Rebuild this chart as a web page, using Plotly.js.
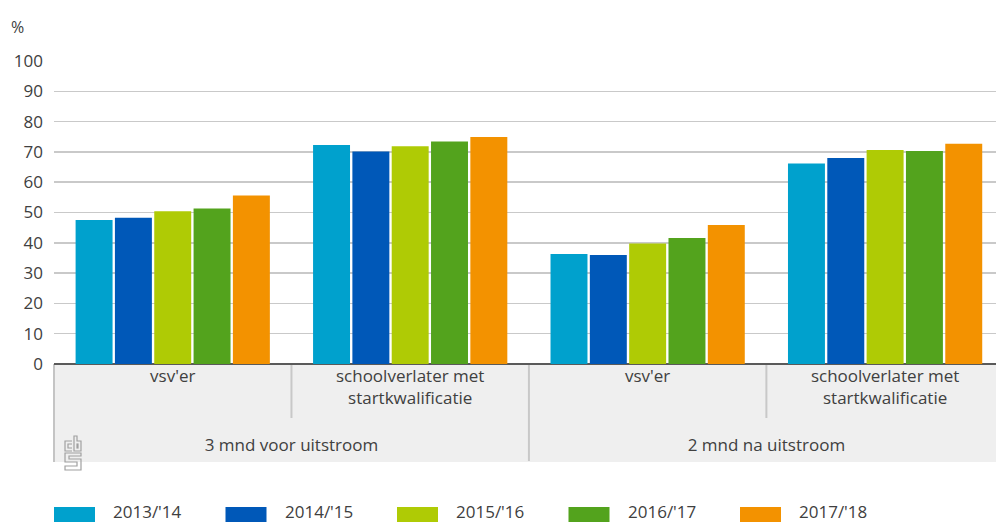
<!DOCTYPE html>
<html>
<head>
<meta charset="utf-8">
<script src="https://cdn.plot.ly/plotly-3.0.1.min.js"></script>
<style>html,body{margin:0;padding:0;background:#fff;}#chart{width:996px;height:523px;}</style>
</head>
<body>
<div id="chart"></div>
<script>
var outerCats = ["3 mnd voor uitstroom", "3 mnd voor uitstroom", "2 mnd na uitstroom", "2 mnd na uitstroom"];
var innerCats = ["vsv'er", "schoolverlater met<br>startkwalificatie<br>&nbsp;", "vsv'er", "schoolverlater met<br>startkwalificatie<br>&nbsp;"];
var seriesNames = ["2013/'14", "2014/'15", "2015/'16", "2016/'17", "2017/'18"];
var v2013 = [47.5, 72.3, 36.3, 66.2];
var v2014 = [48.3, 70.1, 36.0, 68.0];
var v2015 = [50.4, 71.9, 39.8, 70.6];
var v2016 = [51.3, 73.4, 41.6, 70.3];
var v2017 = [55.6, 74.9, 45.9, 72.7];
var yTicks = [0, 10, 20, 30, 40, 50, 60, 70, 80, 90, 100];

var seriesValues = [v2013, v2014, v2015, v2016, v2017];
var colors = ["#00a1cd", "#0058b8", "#afcb05", "#53a31d", "#f39200"];
var font = "Open Sans, Noto Sans, sans-serif";
var textColor = "#404040";

var traces = seriesValues.map(function (vals, i) {
  return {
    type: "bar",
    name: seriesNames[i],
    x: [outerCats, innerCats],
    y: vals,
    marker: {color: colors[i], line: {width: 0}},
    showlegend: false,
    hoverinfo: "y+name"
  };
});

var W = 996, H = 523, mL = 54, mR = 0, mT = 61, mB = 159;
var xr = [-0.5, 3.467];
var pw = W - mL - mR, ph = H - mT - mB;
function px2paperX(px) { return (px - mL) / pw; }
function px2paperY(py) { return (H - mB - py) / ph; }
function idx2paper(i) { return (i - xr[0]) / (xr[1] - xr[0]); }

var shapes = [];
var annotations = [];
// gray label box
shapes.push({type: "rect", xref: "paper", yref: "paper", x0: 0, x1: 1.02, y0: 0, y1: px2paperY(462),
  fillcolor: "#efefef", line: {width: 0}, layer: "below"});
// left edge line
shapes.push({type: "line", xref: "paper", yref: "paper", x0: 0, x1: 0, y0: 0, y1: px2paperY(462),
  line: {color: "#c4c4c4", width: 2}, layer: "below"});
// inner dividers
[0.5, 2.5].forEach(function (b) {
  shapes.push({type: "line", xref: "paper", yref: "paper", x0: idx2paper(b), x1: idx2paper(b), y0: 0, y1: px2paperY(418),
    line: {color: "#c8c8c8", width: 2}, layer: "below"});
});
// outer divider
shapes.push({type: "line", xref: "paper", yref: "paper", x0: idx2paper(1.5), x1: idx2paper(1.5), y0: 0, y1: px2paperY(461),
  line: {color: "#c8c8c8", width: 2}, layer: "below"});

// small cbs logo watermark (line art)
function pathPx(pts, close) {
  var s = pts.map(function (p, k) {
    return (k === 0 ? "M" : "L") + px2paperX(p[0]).toFixed(5) + "," + px2paperY(p[1]).toFixed(5);
  }).join(" ");
  return s + (close ? " Z" : "");
}
var logoPaths = [
  pathPx([[72, 441], [65, 441], [65, 451], [72, 451]], false),
  pathPx([[72, 444], [68, 444], [68, 448], [72, 448]], false),
  pathPx([[74, 436], [77, 436], [77, 441], [81, 441], [81, 451], [74, 451]], true),
  pathPx([[77, 444], [78, 444], [78, 448], [77, 448]], true),
  pathPx([[81, 453], [65, 453], [65, 462], [77, 462], [77, 466], [65, 466], [65, 470], [81, 470], [81, 459], [69, 459], [69, 456], [81, 456]], true)
];
logoPaths.forEach(function (p) {
  shapes.push({type: "path", xref: "paper", yref: "paper", path: p, line: {color: "#a0a0a0", width: 1.2}});
});

// custom legend
for (var i = 0; i < seriesNames.length; i++) {
  var sx = 54 + i * 171.5;
  shapes.push({type: "rect", xref: "paper", yref: "paper",
    x0: px2paperX(sx), x1: px2paperX(sx + 41), y0: px2paperY(522), y1: px2paperY(507),
    fillcolor: colors[i], line: {width: 0}});
  annotations.push({xref: "paper", yref: "paper", x: px2paperX(sx + 57), y: px2paperY(511.5),
    xanchor: "left", yanchor: "middle", showarrow: false, text: seriesNames[i],
    font: {family: font, size: 17, color: textColor}});
}
// % unit label
annotations.push({xref: "paper", yref: "paper", x: px2paperX(9), y: px2paperY(27),
  xanchor: "left", yanchor: "middle", showarrow: false, text: "%",
  font: {family: font, size: 16, color: textColor}});

var layout = {
  width: W, height: H,
  margin: {l: mL, r: mR, t: mT, b: mB, pad: 0},
  paper_bgcolor: "#ffffff",
  plot_bgcolor: "rgba(0,0,0,0)",
  barmode: "group",
  bargap: 0.172,
  bargroupgap: 0.06,
  font: {family: font, size: 17, color: textColor},
  xaxis: {
    type: "multicategory",
    range: xr,
    showgrid: false,
    ticks: "outside",
    ticklen: 4,
    tickcolor: "rgba(0,0,0,0)",
    showdividers: false,
    tickfont: {family: font, size: 17, color: textColor},
    showline: false,
    zeroline: false,
    fixedrange: true
  },
  yaxis: {
    range: [0, 100],
    tickvals: yTicks,
    ticktext: yTicks.map(String),
    showgrid: true,
    gridcolor: "#c9c9c9",
    gridwidth: 1.5,
    zeroline: true,
    zerolinecolor: "#5a5a5a",
    zerolinewidth: 2.5,
    showline: false,
    ticks: "",
    ticklabelstandoff: 10,
    tickfont: {family: font, size: 17, color: textColor},
    fixedrange: true
  },
  shapes: shapes,
  annotations: annotations,
  showlegend: false
};

Plotly.newPlot("chart", traces, layout, {displayModeBar: false, staticPlot: true});
</script>
</body>
</html>
